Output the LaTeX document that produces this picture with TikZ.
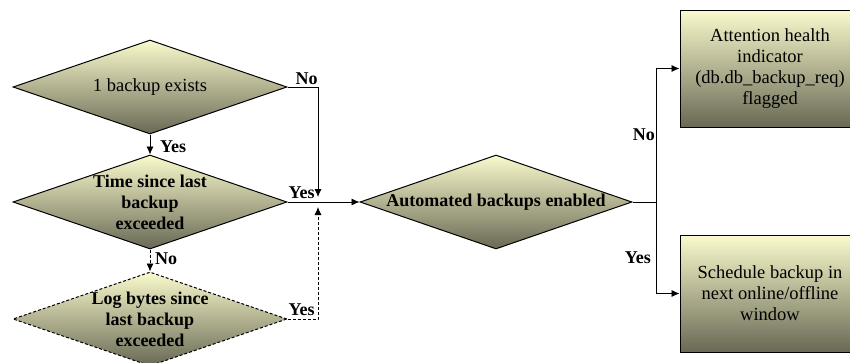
\documentclass[tikz,border=0pt]{standalone}
\usepackage{fontspec}
\setmainfont{Liberation Serif}
\usetikzlibrary{shapes.geometric,arrows.meta,positioning}

\definecolor{boxtop}{RGB}{250,250,205}
\definecolor{boxbot}{RGB}{105,105,85}

\tikzset{
  shadebox/.style={top color=boxtop, bottom color=boxbot, draw=black, line width=1pt},
  decision/.style={shadebox, diamond, minimum width=274pt, minimum height=94pt, inner sep=0pt},
  action/.style={shadebox, rectangle, minimum width=180pt, minimum height=117pt,
    align=center, font=\fontsize{18.5}{21}\selectfont},
  dtext/.style={align=center, inner sep=0pt, font=\fontsize{18.5}{21}\selectfont},
  btext/.style={dtext, font=\bfseries\fontsize{18}{21}\selectfont},
  lbl/.style={inner sep=0pt, font=\bfseries\fontsize{18}{20}\selectfont},
  link/.style={->, line width=0.8pt},
}

\begin{document}
\begin{tikzpicture}[x=1pt,y=-1pt,>={Latex[length=8pt,width=7pt]}]
        \useasboundingbox (0,0) rectangle (850,362);

        % decisions
        \node[decision, label={[dtext]center:1 backup exists}] (exists) at (150,87) {};
        \node[decision, label={[btext]center:{Time since last\\backup\\exceeded}}] (elapsed) at (150,202) {};
        \node[decision, dashed, dash pattern=on 3pt off 2pt,
              label={[btext]center:{Log bytes since\\last backup\\exceeded}}] (logbytes) at (150,319) {};
        \node[decision, minimum width=272pt,
              label={[btext]center:Automated backups enabled}] (enabled) at (496,202) {};

        % actions
        \node[action] (flagged) at (770,68.5) {Attention health\\indicator\\(db.db\_backup\_req)\\flagged};
        \node[action] (schedule) at (770,293.5) {Schedule backup in\\next online/offline\\window};

        \coordinate (joinabove) at (318,197);
        \coordinate (joinbelow) at (318,207);
        \coordinate (split) at (656,202);

        % connectors
        \draw[link] (exists.south) -- (elapsed.north);
        \draw[link] (exists.east) -| (joinabove);
        \draw[link] (elapsed.east) -- (enabled.west);
        \draw[link, dash pattern=on 3pt off 2pt] (elapsed.south) -- (logbytes.north);
        \draw[link, dash pattern=on 3pt off 2pt] (logbytes.east) -| (joinbelow);
        \draw[line width=0.8pt] (enabled.east) -- (split);
        \draw[link] (split) |- (flagged.west);
        \draw[link] (split) |- (schedule.west);

        % labels
        \node[lbl, above right=2pt and 8pt of exists.east] (noexists) {No};
        \node[lbl, below right=6pt and 10pt of exists.south] (yesexists) {Yes};
        \node[lbl, above right=3pt and 1pt of elapsed.east] (yeselapsed) {Yes};
        \node[lbl, below right=3pt and 5pt of elapsed.south] (noelapsed) {No};
        \node[lbl, above right=3pt and 1pt of logbytes.east] (yeslog) {Yes};
        \node[lbl, anchor=east] (noenabled) at (655,135) {No};
        \node[lbl, anchor=east] (yesenabled) at (651,258) {Yes};
    \end{tikzpicture}
\end{document}
